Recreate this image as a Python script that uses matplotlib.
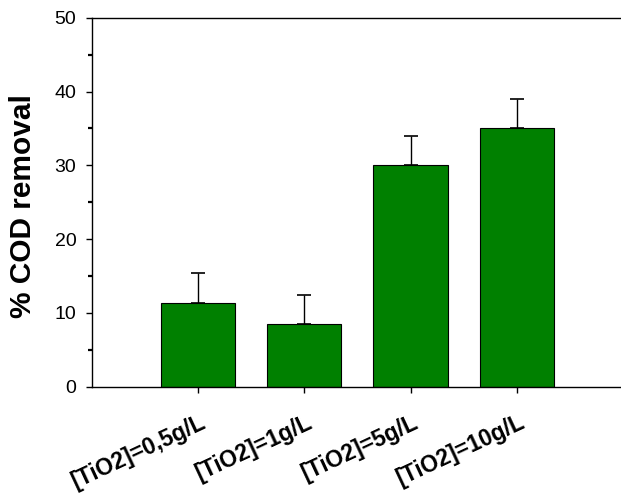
import matplotlib
matplotlib.use("Agg")
import matplotlib.pyplot as plt
from matplotlib.ticker import MultipleLocator
from matplotlib.transforms import ScaledTranslation

categories = ["[TiO2]=0,5g/L", "[TiO2]=1g/L", "[TiO2]=5g/L", "[TiO2]=10g/L"]
cod_removal = [11.4, 8.45, 30.0, 35.0]
errors = [4.0, 4.0, 4.0, 4.0]

plt.rcParams['font.family'] = ['Liberation Sans', 'DejaVu Sans']

fig = plt.figure(figsize=(6.21, 5.01), dpi=100)
ax = fig.add_axes([91.7/621, 1 - 386.7/501, 1 - 91.7/621, (386.7-17.7)/501])

pos = list(range(1, len(categories) + 1))
ax.bar(pos, cod_removal, width=0.7, color='#008000', edgecolor='black', linewidth=0.8,
       yerr=[[0]*len(errors), errors],
       error_kw=dict(ecolor='black', elinewidth=1.0, capsize=5, capthick=1.2),
       zorder=2)

ax.set_xlim(0, 4.98)
ax.set_ylim(0, 50)
ax.yaxis.set_major_locator(MultipleLocator(10))
ax.yaxis.set_minor_locator(MultipleLocator(5))
ax.set_xticks(pos)
ax.set_xticklabels(categories, rotation=25, ha='right', va='baseline',
                   rotation_mode='anchor', fontsize=16.5, fontweight='bold')
ax.tick_params(axis='x', length=4.3, width=1, direction='out', pad=0)
offset = ScaledTranslation(9.5/100, -34/100, fig.dpi_scale_trans)
for lbl in ax.get_xticklabels():
    lbl.set_transform(lbl.get_transform() + offset)
ax.tick_params(axis='y', which='major', length=4.5, width=1, labelsize=14, pad=6.5)
ax.tick_params(axis='y', which='minor', length=3, width=1.6)
ax.spines['right'].set_visible(False)
for s in ['left', 'bottom', 'top']:
    ax.spines[s].set_linewidth(1.0)
ax.set_ylabel('% COD removal', fontsize=21.5, fontweight='bold', va='center')
ax.yaxis.set_label_coords((23 - 91.7) / (621 - 91.7), (386.7 - 206) / 369)

fig.savefig('out.png', dpi=100)
